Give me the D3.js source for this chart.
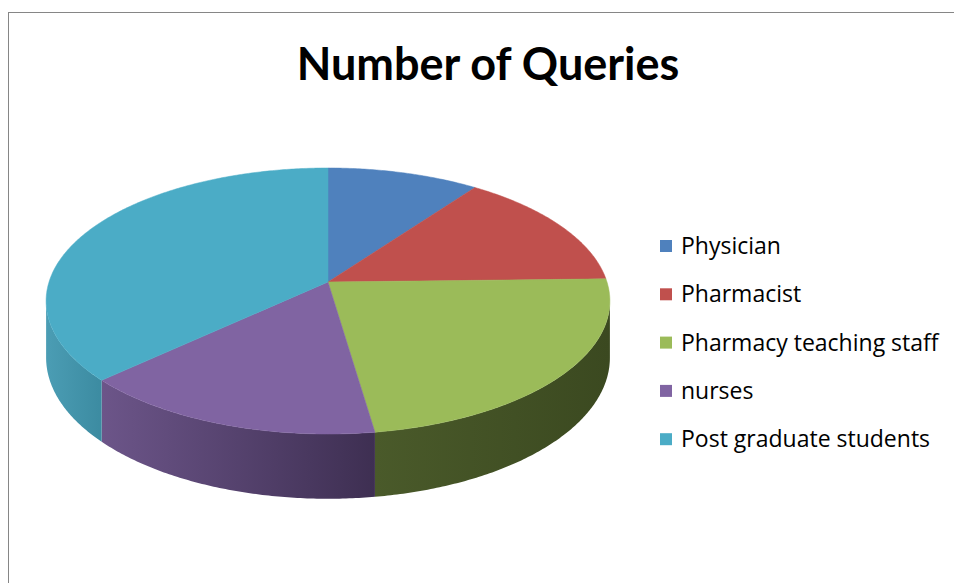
<!DOCTYPE html>
<html>
<head>
<meta charset="utf-8">
<script src="https://cdn.jsdelivr.net/npm/d3@7"></script>
<style>
  body { margin: 0; background: #fff; }
  svg { display: block; }
</style>
</head>
<body>
<script>
// 3d-ish pie, drawn by hand with a simple perspective projection

var width  = 954,
    height = 583;

var categories = ["Physician", "Pharmacist", "Pharmacy teaching staff", "nurses", "Post graduate students"];
var values     = [13, 19, 30, 20, 48];
var topColors  = ["#4f81bd", "#c0504d", "#9bbb59", "#8064a2", "#4bacc6"];
// side gradient stops (left, right)
var sideColors = [["#3c6391", "#2f4f75"], ["#93403d", "#7a3230"], ["#4a5a2a", "#3b4920"], ["#6c5589", "#3e2f52"], ["#4b9db4", "#3c8ba1"]];

var svg = d3.select("body").append("svg")
    .attr("width", width)
    .attr("height", height);

// chart frame
svg.append("rect")
    .attr("x", 8.5)
    .attr("y", 12.5)
    .attr("width", width + 20)
    .attr("height", height + 20)
    .attr("fill", "#fff")
    .attr("stroke", "#868686")
    .attr("stroke-width", 1);

svg.append("text")
    .attr("x", 488)
    .attr("y", 80)
    .attr("text-anchor", "middle")
    .attr("font-family", "Lato, 'Open Sans', sans-serif")
    .attr("font-weight", "bold")
    .attr("font-size", 45)
    .attr("fill", "#000")
    .text("Number of Queries");

// projection of the disk: angle clockwise from 12 o'clock, z = 0 top face, 1 = bottom
var cx = 328, b = 282, a = 90, c = -0.1429, e = 279, depth = 55.5;

var project = function(theta, r, z) {
  var X = r * Math.sin(theta),
      Y = -r * Math.cos(theta),
      d = 1 + c * Y;
  return [cx + e * X / d, (a * Y + b) / d + z * depth / d];
};

var pie = d3.pie().sort(null).value(function(d) { return d; });
var arcs = pie(values);

var line = d3.line();
var visFrom = Math.acos(c),            // right silhouette
    visTo   = 2 * Math.PI - Math.acos(c);

var defs = svg.append("defs");

var arcPoints = function(t0, t1, z) {
  var pts = [], n = Math.max(2, Math.ceil((t1 - t0) / 0.01));
  for (var k = 0; k <= n; k++) {
    pts.push(project(t0 + (t1 - t0) * k / n, 1, z));
  }
  return pts;
};

// sides first
arcs.forEach(function(d, i) {
  var t0 = Math.max(d.startAngle, visFrom),
      t1 = Math.min(d.endAngle, visTo);
  if (t1 <= t0) return;
  var top = arcPoints(t0, t1, 0),
      bottom = arcPoints(t0, t1, 1).reverse();
  var xs = top.map(function(p) { return p[0]; });
  var grad = defs.append("linearGradient")
      .attr("id", "side" + i)
      .attr("gradientUnits", "userSpaceOnUse")
      .attr("x1", d3.min(xs)).attr("x2", d3.max(xs))
      .attr("y1", 0).attr("y2", 0);
  grad.append("stop").attr("offset", 0).attr("stop-color", sideColors[i][0]);
  grad.append("stop").attr("offset", 1).attr("stop-color", sideColors[i][1]);
  svg.append("path")
      .attr("d", line(top.concat(bottom)) + "Z")
      .attr("fill", "url(#side" + i + ")");
});

// top faces
arcs.forEach(function(d, i) {
  var pts = [project(0, 0, 0)].concat(arcPoints(d.startAngle, d.endAngle, 0));
  svg.append("path")
      .attr("d", line(pts) + "Z")
      .attr("fill", topColors[i])
      .attr("stroke", topColors[i])
      .attr("stroke-width", 0.5);
});

// legend
var legend = svg.selectAll(".legend")
    .data(categories)
    .enter().append("g")
    .attr("class", "legend")
    .attr("transform", function(d, i) { return "translate(660," + (246 + i * 48.3) + ")"; });

legend.append("rect")
    .attr("x", 0)
    .attr("y", -6)
    .attr("width", 12)
    .attr("height", 12)
    .attr("fill", function(d, i) { return topColors[i]; });

legend.append("text")
    .attr("x", 21)
    .attr("y", 8)
    .attr("font-family", "'Open Sans', Lato, sans-serif")
    .attr("font-size", 23)
    .attr("fill", "#000")
    .text(function(d) { return d; });
</script>
</body>
</html>
